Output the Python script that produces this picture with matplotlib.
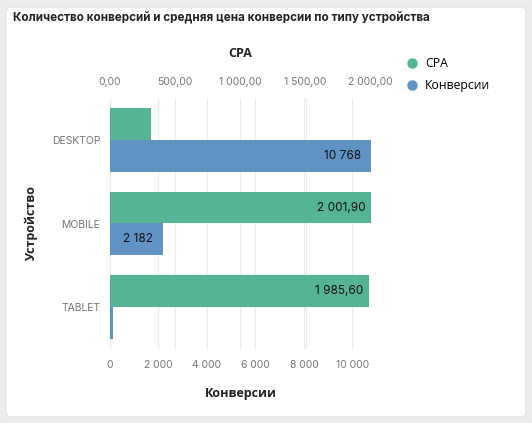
import numpy as np
import matplotlib
matplotlib.use("Agg")
import matplotlib.pyplot as plt
from matplotlib.patches import FancyBboxPatch
from matplotlib.lines import Line2D

devices = ["DESKTOP", "MOBILE", "TABLET"]
cpa = [313.0, 2001.90, 1985.60]
conversions = [10768, 2182, 110]
cpa_ticks = [0, 500, 1000, 1500, 2000]
conv_ticks = [0, 2000, 4000, 6000, 8000, 10000]

GREEN = "#56b496"
BLUE = "#6192c4"
TICK_COLOR = "#777777"
GRID_COLOR = "#ececec"


def fmt_int(v):
    return f"{v:,.0f}".replace(",", " ")


def fmt_dec(v):
    return f"{v:,.2f}".replace(",", " ").replace(".", ",")


plt.rcParams["font.family"] = ["Inter", "DejaVu Sans"]

fig = plt.figure(figsize=(5.32, 4.23), dpi=100)
fig.patch.set_facecolor("#ededed")

# white card
card = FancyBboxPatch((6 / 532, 6 / 423), 520 / 532, 410 / 423,
                      boxstyle="round,pad=0,rounding_size=0.012",
                      transform=fig.transFigure, facecolor="white",
                      edgecolor="#e2e2e2", linewidth=0.8, zorder=-10)
fig.patches.append(card)

fig.text(13 / 532, 1 - 18 / 423,
         "Количество конверсий и средняя цена конверсии по типу устройства",
         fontsize=8.4, fontweight="bold", color="#222222", va="center")

ax = fig.add_axes([110 / 532, 1 - 349 / 423, 261 / 532, 251 / 423])
ax2 = ax.twiny()
for a in (ax, ax2):
    a.patch.set_alpha(0)

y = np.arange(len(devices))
h = 0.38

ax.set_xlim(0, max(conversions))
ax2.set_xlim(0, max(cpa))
ax.set_ylim(2.5, -0.5)

# grid lines of both scales, drawn under all bars
ax.grid(axis="x", color=GRID_COLOR, linewidth=0.8, zorder=0)
ax.set_axisbelow(True)
scale = max(conversions) / max(cpa)
for t in cpa_ticks:
    ax.axvline(t * scale, color=GRID_COLOR, linewidth=0.8, zorder=0)

ax2.barh(y - h / 2, cpa, height=h, color=GREEN, zorder=3)
ax.barh(y + h / 2, conversions, height=h, color=BLUE, zorder=3)

ax.set_xticks(conv_ticks)
ax.set_xticklabels([fmt_int(t) for t in conv_ticks])
ax2.set_xticks(cpa_ticks)
ax2.set_xticklabels([fmt_dec(t) for t in cpa_ticks])
ax.set_yticks(y)
ax.set_yticklabels(devices)

for a in (ax, ax2):
    a.tick_params(length=0, labelsize=7.5, labelcolor=TICK_COLOR, pad=8)
    for s in a.spines.values():
        s.set_visible(False)
ax.tick_params(axis="y", pad=7)

# value labels at the right end inside bars
for i in range(len(devices)):
    if cpa[i] > 800:
        ax2.text(cpa[i] - 40, i - h / 2, fmt_dec(cpa[i]), ha="right",
                 va="center", fontsize=8.5, color="#111111", zorder=4)
    if conversions[i] > 1500:
        ax.text(conversions[i] - 420, i + h / 2, fmt_int(conversions[i]),
                ha="right", va="center", fontsize=8.5, color="#111111", zorder=4)

ax.set_xlabel("Конверсии", fontsize=9, fontweight="bold", color="#222222",
              labelpad=12, family=["Open Sans", "DejaVu Sans"])
ax2.set_xlabel("CPA", fontsize=9, fontweight="bold", color="#222222",
               labelpad=14, family=["Open Sans", "DejaVu Sans"])
ax.set_ylabel("Устройство", fontsize=9, fontweight="bold", color="#222222",
              labelpad=10, family=["Open Sans", "DejaVu Sans"])

handles = [Line2D([], [], marker="o", linestyle="", color=GREEN, markersize=6.5),
           Line2D([], [], marker="o", linestyle="", color=BLUE, markersize=6.5)]
fig.legend(handles, ["CPA", "Конверсии"], loc="upper left",
           bbox_to_anchor=(389 / 532, 1 - 46 / 423), frameon=False,
           handletextpad=0.05, labelspacing=0.75,
           prop={"family": ["Open Sans", "DejaVu Sans"], "size": 8.8})

fig.savefig("out.png", dpi=100, facecolor=fig.get_facecolor())
